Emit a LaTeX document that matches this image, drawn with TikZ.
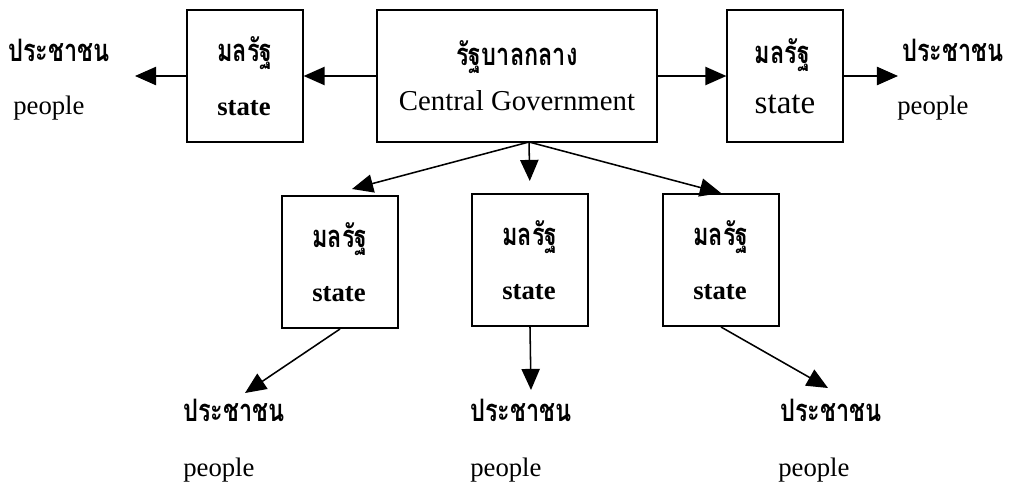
\documentclass[tikz,border=0pt]{standalone}
\usepackage{fontspec}
\setmainfont{Liberation Serif}
\newfontfamily\thaifont[Script=Thai,FakeStretch=0.76]{Loma}
\newcommand{\thaib}{\fontsize{22}{24}\thaifont\bfseries}
\usetikzlibrary{arrows.meta}

\begin{document}
\begin{tikzpicture}[
          x=0.025cm, y=-0.025cm,
          every node/.style={font=\fontsize{19}{22}\selectfont, inner sep=0pt},
          box/.style={draw, line width=1.4pt, minimum width=2.88cm, minimum height=3.3cm, align=left},
          cbox/.style={box, minimum width=6.98cm, align=center},
          thai/.style={font=\thaib, anchor=west},
          eng/.style={anchor=west},
          link/.style={->, line width=1.1pt},
          >={Triangle[length=15pt,width=13pt]}
        ]
        \useasboundingbox (0,0) rectangle (1025,494);

        % top row
        \node[cbox] (cg) at (517,76)
          {{\thaib รัฐบาลกลาง}\\[10pt]{\fontsize{20.5}{22}\selectfont Central Government}};
        \node[box] (sL) at (245,76)
          {{\thaib มลรัฐ}\\[16pt]\textbf{state}};
        \node[box] (sR) at (785,76)
          {{\thaib มลรัฐ}\\[14pt]{\fontsize{23.5}{24}\selectfont state}};

        \node[thai] (pL) at (8,50) {ประชาชน};
        \node[eng] (pLe) at (13,108) {people};
        \node[thai] (pR) at (902,50) {ประชาชน};
        \node[eng] (pRe) at (897,108) {people};

        % lower row
        \node[box] (s1) at (340,262)
          {{\thaib มลรัฐ}\\[16pt]\textbf{state}};
        \node[box] (s2) at (530,260)
          {{\thaib มลรัฐ}\\[16pt]\textbf{state}};
        \node[box] (s3) at (721,260)
          {{\thaib มลรัฐ}\\[16pt]\textbf{state}};

        \node[thai] (p1) at (183,410) {ประชาชน};
        \node[eng] (p1e) at (183,470) {people};
        \node[thai] (p2) at (470,410) {ประชาชน};
        \node[eng] (p2e) at (470,470) {people};
        \node[thai] (p3) at (780,410) {ประชาชน};
        \node[eng] (p3e) at (778,470) {people};

        % arrow ends
        \coordinate (hub) at (529,142);
        \coordinate (aL) at (135,76);
        \coordinate (aR) at (898,76);
        \coordinate (a1) at (245,393);
        \coordinate (a2) at (531,390);
        \coordinate (a3) at (828,388);

        \draw[link] (cg.west) -- (sL.east);
        \draw[link] (sL.west) -- (aL);
        \draw[link] (cg.east) -- (sR.west);
        \draw[link] (sR.east) -- (aR);
        \draw[link] (hub) -- ([xshift=0.3cm,yshift=0.15cm]s1.north);
        \draw[link, shorten >=0.3cm] (hub) -- (s2.north);
        \draw[link] (hub) -- (s3.north);
        \draw[link] (s1.south) -- (a1);
        \draw[link] (s2.south) -- (a2);
        \draw[link] (s3.south) -- (a3);
\end{tikzpicture}
\end{document}
